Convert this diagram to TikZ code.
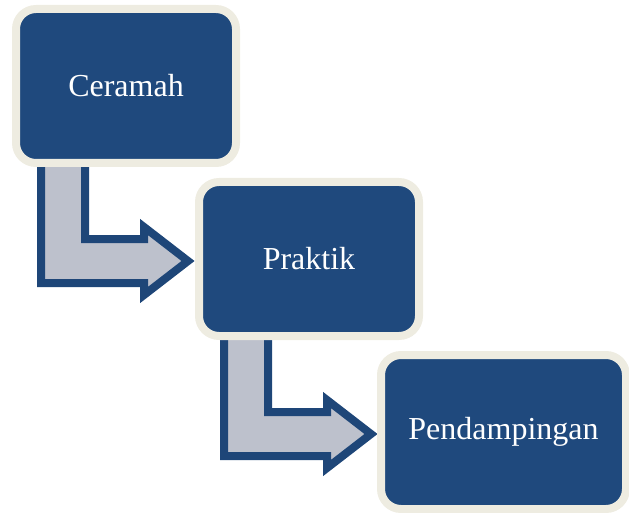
\documentclass[tikz,border=0pt]{standalone}
\usepackage{fontspec}
\setmainfont{Liberation Serif}
\usepackage{xcolor}
\usetikzlibrary{positioning,calc,shadows,backgrounds}

\definecolor{boxblue}{RGB}{31,73,125}
\definecolor{boxrim}{RGB}{238,236,225}
\definecolor{arrowfill}{RGB}{189,193,204}
\definecolor{arrowline}{RGB}{30,70,120}

\tikzset{
  stage/.style={draw=boxrim, line width=8pt, fill=boxblue, rounded corners=20pt,
    minimum width=220pt, minimum height=154pt, inner sep=0pt, text=white,
    font=\fontsize{32}{38}\selectfont,
    drop shadow={shadow xshift=2pt, shadow yshift=-3pt, opacity=0.25}},
  bentarrow/.style={draw=arrowline, fill=arrowfill, line width=8pt, line join=miter,
    drop shadow={shadow xshift=2pt, shadow yshift=-3pt, opacity=0.2}}
}

\begin{document}
\begin{tikzpicture}[x=1pt, y=-1pt]
  \useasboundingbox (0,0) rectangle (629,513);

  \node [stage] (ceramah) at (126,86) {Ceramah};
  \node [stage] (praktik) at ($(ceramah)+(183,173)$) {Praktik};
  \node [stage, minimum width=245pt, anchor=west] (pendampingan)
    at ($(praktik.west)+(182,173)$) {Pendampingan};

  % bent arrows, tucked under the boxes
  \begin{scope}[on background layer]
    \foreach \from in {ceramah, praktik} {
      \begin{scope}[shift={(\from.south west)}]
        \draw [bentarrow] (29,-20) -- (29,116) -- (132,116) -- (132,128) -- (176,94)
          -- (132,60) -- (132,72) -- (73,72) -- (73,-20) -- cycle;
      \end{scope}
    }
  \end{scope}
\end{tikzpicture}
\end{document}
